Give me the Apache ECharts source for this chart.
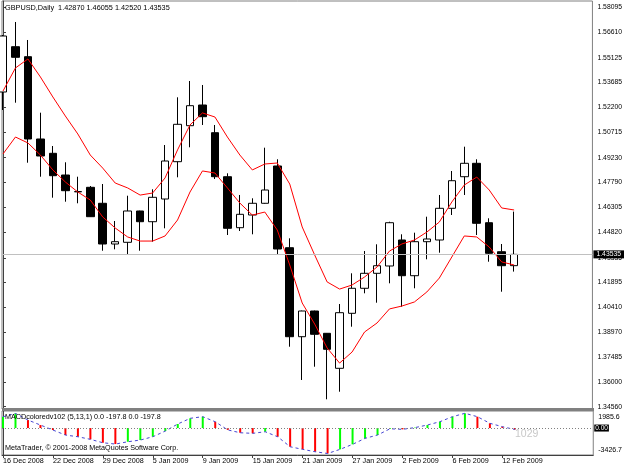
<!DOCTYPE html>
<html>
<head>
<meta charset="utf-8">
<title>GBPUSD,Daily</title>
<style>
  html, body { margin: 0; padding: 0; background: #fff; }
  #main { width: 625px; height: 469px; }
</style>
</head>
<body>
<div id="main"></div>
<script src="https://cdn.jsdelivr.net/npm/echarts@6.0.0/dist/echarts.min.js"></script>
<script>
var symbolName = 'GBPUSD,Daily';

var dates = ['16 Dec 2008', '17 Dec 2008', '18 Dec 2008', '19 Dec 2008', '22 Dec 2008', '23 Dec 2008',
    '24 Dec 2008', '26 Dec 2008', '29 Dec 2008', '30 Dec 2008', '31 Dec 2008', '2 Jan 2009',
    '5 Jan 2009', '6 Jan 2009', '7 Jan 2009', '8 Jan 2009', '9 Jan 2009', '12 Jan 2009',
    '13 Jan 2009', '14 Jan 2009', '15 Jan 2009', '16 Jan 2009', '19 Jan 2009', '20 Jan 2009',
    '21 Jan 2009', '22 Jan 2009', '23 Jan 2009', '26 Jan 2009', '27 Jan 2009', '28 Jan 2009',
    '29 Jan 2009', '30 Jan 2009', '2 Feb 2009', '3 Feb 2009', '4 Feb 2009', '5 Feb 2009',
    '6 Feb 2009', '9 Feb 2009', '10 Feb 2009', '11 Feb 2009', '12 Feb 2009', '13 Feb 2009'];

// open, close, low, high
var candles = [
    [1.53104, 1.56404, 1.52043, 1.56463],
    [1.55773, 1.55148, 1.52473, 1.57229],
    [1.55184, 1.50334, 1.48937, 1.56168],
    [1.50334, 1.49332, 1.48112, 1.51884],
    [1.49491, 1.48171, 1.46875, 1.49921],
    [1.48212, 1.47287, 1.46639, 1.48961],
    [1.47235, 1.47220, 1.46545, 1.48112],
    [1.47487, 1.45755, 1.45740, 1.47564],
    [1.46545, 1.44146, 1.43751, 1.47682],
    [1.44146, 1.44282, 1.43834, 1.45502],
    [1.44246, 1.46091, 1.43498, 1.46992],
    [1.46091, 1.45460, 1.43751, 1.46110],
    [1.45460, 1.46898, 1.44282, 1.47370],
    [1.46798, 1.49037, 1.45071, 1.49980],
    [1.48996, 1.51200, 1.48077, 1.52791],
    [1.51118, 1.52296, 1.49845, 1.53752],
    [1.52337, 1.51648, 1.51159, 1.53516],
    [1.50705, 1.48112, 1.47977, 1.51159],
    [1.48112, 1.45071, 1.44676, 1.48312],
    [1.45107, 1.45896, 1.44912, 1.47034],
    [1.45855, 1.46545, 1.44718, 1.46839],
    [1.46545, 1.47328, 1.46520, 1.49821],
    [1.48743, 1.43851, 1.43498, 1.49138],
    [1.43928, 1.38683, 1.38094, 1.44482],
    [1.38683, 1.40198, 1.36132, 1.40220],
    [1.40198, 1.38825, 1.36915, 1.40220],
    [1.38884, 1.37941, 1.34994, 1.38900],
    [1.36821, 1.40098, 1.35442, 1.40610],
    [1.40062, 1.41536, 1.39273, 1.42419],
    [1.41536, 1.42419, 1.41241, 1.43734],
    [1.42419, 1.42867, 1.40687, 1.44128],
    [1.42850, 1.45401, 1.41830, 1.45460],
    [1.44382, 1.42278, 1.40451, 1.44718],
    [1.42278, 1.44282, 1.41536, 1.44812],
    [1.44282, 1.44441, 1.43244, 1.45755],
    [1.44382, 1.46250, 1.43633, 1.47034],
    [1.46250, 1.47876, 1.45855, 1.48448],
    [1.48112, 1.48902, 1.47034, 1.49880],
    [1.48902, 1.45366, 1.44676, 1.49138],
    [1.45401, 1.43598, 1.43103, 1.45661],
    [1.43692, 1.42867, 1.41335, 1.44146],
    [1.42870, 1.43535, 1.42520, 1.46055]
];

// the two red lines
var upperLine = [1.5316, 1.5452, 1.5505, 1.5399, 1.5281, 1.5169, 1.5063, 1.4939, 1.4862, 1.4774,
    1.4745, 1.4703, 1.4715, 1.4804, 1.4969, 1.5116, 1.5187, 1.5163, 1.5045, 1.4939,
    1.4851, 1.4886, 1.4892, 1.4768, 1.4515, 1.4350, 1.4191, 1.4149, 1.4173, 1.4220,
    1.4279, 1.4373, 1.4415, 1.4438, 1.4485, 1.4544, 1.4662, 1.4762, 1.4809, 1.4733,
    1.4627, 1.4615];
var lowerLine = [1.4945, 1.5045, 1.5010, 1.4939, 1.4851, 1.4780, 1.4721, 1.4674, 1.4574, 1.4509,
    1.4456, 1.4432, 1.4432, 1.4462, 1.4556, 1.4721, 1.4845, 1.4833, 1.4745, 1.4656,
    1.4585, 1.4603, 1.4497, 1.4291, 1.4067, 1.3943, 1.3802, 1.3713, 1.3778, 1.3896,
    1.3949, 1.4032, 1.4049, 1.4073, 1.4132, 1.4214, 1.4338, 1.4462, 1.4456, 1.4397,
    1.4309, 1.4291];

var macd = [1521, 1960, 1077, 404, -269, -942, -1171, -1521, -1979, -2154,
    -1844, -1615, -1171, -404, 543, 1312, 1528, 848, -250, -633,
    -713, -498, -1171, -2517, -2867, -3190, -3426.7, -2867, -2194, -1386,
    -942, -100, -175, 60, 410, 855, 1528, 1985.6, 1528, 639,
    182, -197.8];

var priceTicks = [1.58095, 1.56610, 1.55125, 1.53685, 1.52200, 1.50715, 1.49230, 1.47790, 1.46305,
    1.44820, 1.43335, 1.41895, 1.40410, 1.38970, 1.37485, 1.36000, 1.34560];
var macdTicks = [1985.6, -3426.7];
var dateTicks = [0, 4, 8, 12, 16, 20, 24, 28, 32, 36, 40];

var lastBar = candles[candles.length - 1];
var lastPrice = lastBar[1];
var lastMacd = macd[macd.length - 1];

var fontName = '"Liberation Sans", Arial, sans-serif';

var chartDom = document.getElementById('main');
var myChart = echarts.init(chartDom, null, { renderer: 'canvas' });
var option;

option = {
    animation: false,
    backgroundColor: '#fff',
    grid: [
        { left: 2, top: 1, width: 592, height: 408, show: true, borderColor: '#808080', borderWidth: 1 },
        { left: 2, top: 411, width: 592, height: 44, show: true, borderColor: '#808080', borderWidth: 1 }
    ],
    xAxis: [
        {
            type: 'value', gridIndex: 0, min: -0.08, max: 47.28,
            axisLine: { show: false }, axisTick: { show: false },
            axisLabel: { show: false }, splitLine: { show: false }
        },
        {
            type: 'value', gridIndex: 1, min: -0.08, max: 47.28,
            axisLine: { show: true, onZero: false, lineStyle: { color: '#404040', width: 1 } },
            axisTick: { show: true, length: 3, customValues: dateTicks, lineStyle: { color: '#404040' } },
            axisLabel: {
                show: true, customValues: dateTicks, align: 'left', margin: 3,
                fontSize: 7.2, fontFamily: fontName, color: '#000',
                formatter: function (v) { return dates[v] || ''; }
            },
            splitLine: { show: false }
        }
    ],
    yAxis: [
        {
            type: 'value', gridIndex: 0, position: 'right', min: 1.34423, max: 1.58466,
            axisLine: { show: true, lineStyle: { color: '#404040', width: 1 } },
            axisTick: { show: true, length: 3, customValues: priceTicks, lineStyle: { color: '#404040' } },
            axisLabel: {
                show: true, customValues: priceTicks, margin: 5,
                fontSize: 6.8, fontFamily: fontName, color: '#000',
                formatter: function (v) { return v.toFixed(5); }
            },
            splitLine: { show: false }
        },
        {
            type: 'value', gridIndex: 1, position: 'right', min: -3628.6, max: 2295.3,
            axisLine: { show: true, lineStyle: { color: '#404040', width: 1 } },
            axisTick: { show: false },
            axisLabel: {
                show: true, customValues: macdTicks, margin: 5,
                fontSize: 7, fontFamily: fontName, color: '#000',
                formatter: function (v) { return v > 0 ? '{t|' + v.toFixed(1) + '}' : '{b|' + v.toFixed(1) + '}'; },
                rich: {
                    t: { fontSize: 7, fontFamily: fontName, padding: [7, 0, 0, 0] },
                    b: { fontSize: 7, fontFamily: fontName, padding: [0, 0, 6, 0] }
                }
            },
            splitLine: { show: false }
        }
    ],
    graphic: [
        // separator between the price window and the indicator window
        { type: 'rect', left: 2, top: 408, shape: { width: 592, height: 3 }, style: { fill: '#808080' }, z: 10 },
        {
            type: 'text', left: 5, top: 4, z: 10,
            style: {
                text: symbolName + '  ' + [lastBar[0], lastBar[3], lastBar[2], lastBar[1]].map(function (p) { return p.toFixed(5); }).join(' '),
                font: '7.3px ' + fontName, fill: '#000'
            }
        },
        {
            type: 'text', left: 5, top: 414, z: 10,
            style: {
                text: 'MACDcoloredv102 (5,13,1) 0.0 ' + lastMacd.toFixed(1) + ' 0.0 ' + lastMacd.toFixed(1),
                font: '7.2px ' + fontName, fill: '#000'
            }
        },
        {
            type: 'text', left: 5, top: 445, z: 10,
            style: { text: 'MetaTrader, \u00a9 2001-2008 MetaQuotes Software Corp.', font: '7.2px ' + fontName, fill: '#000' }
        },
        {
            type: 'text', left: 515, top: 429, z: 10,
            style: { text: '1029', font: '10.5px ' + fontName, fill: '#c8c8c8' }
        }
    ],
    series: [
        {
            type: 'candlestick',
            xAxisIndex: 0, yAxisIndex: 0,
            silent: true,
            barWidth: 8,
            data: candles.map(function (c, i) { return [i].concat(c); }),
            itemStyle: {
                color: '#fff', color0: '#000',
                borderColor: '#000', borderColor0: '#000', borderColorDoji: '#000',
                borderWidth: 1
            },
            markLine: {
                silent: true, symbol: ['none', 'none'], precision: 5,
                lineStyle: { color: '#c0c0c0', type: 'solid', width: 1 },
                label: {
                    position: 'end', distance: 1, formatter: lastPrice.toFixed(5),
                    backgroundColor: '#000', color: '#fff', fontSize: 6.8, fontFamily: fontName,
                    padding: [1, 3, 0, 3]
                },
                data: [{ yAxis: lastPrice }]
            }
        },
        {
            type: 'line', xAxisIndex: 0, yAxisIndex: 0, silent: true,
            showSymbol: false, z: 3,
            data: upperLine.map(function (v, i) { return [i, v]; }),
            lineStyle: { color: '#ff0000', width: 1 }
        },
        {
            type: 'line', xAxisIndex: 0, yAxisIndex: 0, silent: true,
            showSymbol: false, z: 3,
            data: lowerLine.map(function (v, i) { return [i, v]; }),
            lineStyle: { color: '#ff0000', width: 1 }
        },
        {
            type: 'bar', xAxisIndex: 1, yAxisIndex: 1, silent: true,
            barWidth: 2,
            data: macd.map(function (v, i) {
                var up = i === 0 || v >= macd[i - 1];
                return { value: [i, v], itemStyle: { color: up ? '#00ff00' : '#ff0000' } };
            }),
            markLine: {
                silent: true, symbol: ['none', 'none'], precision: 1,
                data: [
                    {
                        yAxis: 0,
                        lineStyle: { color: '#808080', type: [1, 2], width: 1 },
                        label: {
                            position: 'end', distance: 1, formatter: '0.00',
                            backgroundColor: '#000', color: '#fff', fontSize: 6.5, fontFamily: fontName,
                            padding: [0, 1, 0, 1]
                        }
                    }
                ]
            }
        },
        {
            type: 'line', xAxisIndex: 1, yAxisIndex: 1, silent: true,
            showSymbol: false, z: 3,
            data: macd.map(function (v, i) { return [i, v]; }),
            lineStyle: { color: '#4646d2', width: 1, type: [3, 3] }
        }
    ]
};

option && myChart.setOption(option);
</script>
</body>
</html>
